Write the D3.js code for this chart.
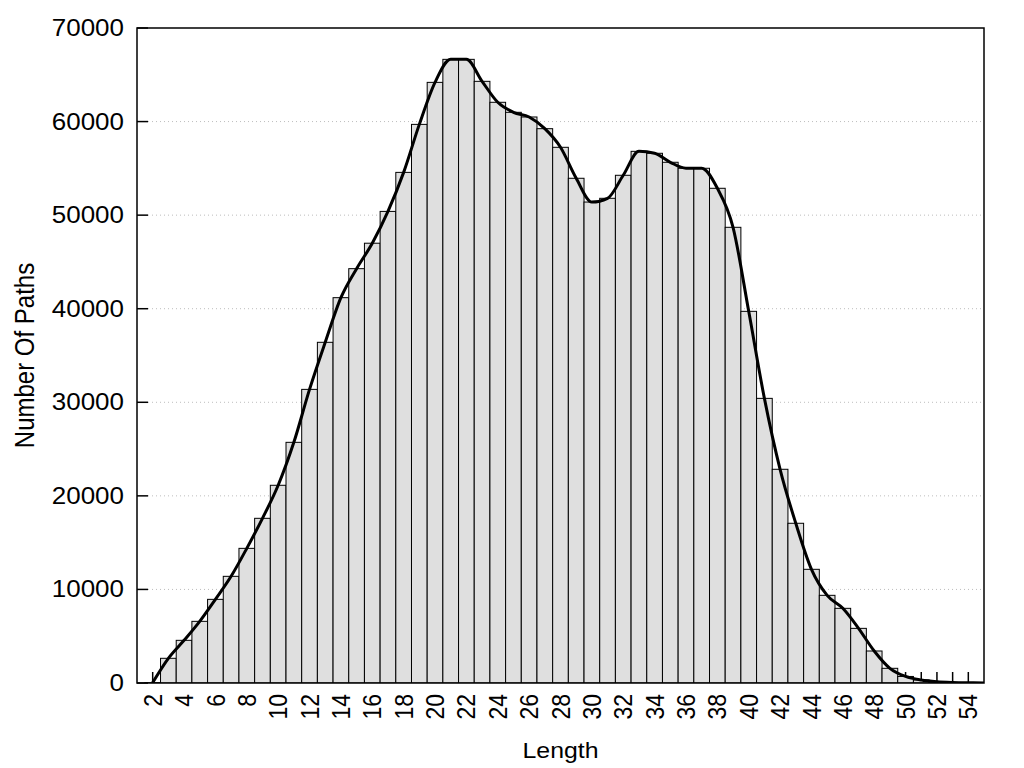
<!DOCTYPE html>
<html>
<head>
<meta charset="utf-8">
<script src="https://cdn.jsdelivr.net/npm/d3@7"></script>
<style>
    body { margin: 0; background: #fff; }
    text { font-family: "Liberation Sans", Arial, sans-serif; fill: #000; }
</style>
</head>
<body>
<div id="chart"></div>
<script>
// path length histogram
const LENGTHS = [2, 3, 4, 5, 6, 7, 8, 9, 10, 11, 12, 13, 14, 15, 16, 17, 18, 19, 20, 21, 22, 23, 24, 25, 26, 27, 28,
    29, 30, 31, 32, 33, 34, 35, 36, 37, 38, 39, 40, 41, 42, 43, 44, 45, 46, 47, 48, 49, 50, 51, 52, 53, 54, 55];
const COUNTS = [40, 2640, 4560, 6590, 8940, 11400, 14390, 17600, 21130, 25720, 31380, 36410, 41180, 44280, 47000,
    50400, 54570, 59700, 64190, 66650, 66650, 64300, 62060, 60990, 60490, 59240, 57250, 53940, 51400, 51800, 54260,
    56820, 56610, 55650, 55010, 55010, 52870, 48700, 39720, 30420, 22840, 17070, 12150, 9370, 7980, 5840, 3420, 1570,
    700, 320, 140, 60, 25, 10];
const Y_TICKS = [0, 10000, 20000, 30000, 40000, 50000, 60000, 70000];
const X_TICK_LABELS = [2, 4, 6, 8, 10, 12, 14, 16, 18, 20, 22, 24, 26, 28, 30, 32, 34, 36, 38, 40, 42, 44, 46, 48, 50, 52, 54];

(function () {
    const width = 1024, height = 768;
    const left = 137, right = 984, top = 28, bottom = 683;
    const stretch = 1.13; // the reference's glyphs are a bit wide

    const data = LENGTHS.map((len, i) => ({ len: len, count: COUNTS[i] }));

    const xScale = d3.scaleLinear().domain([1, 55]).range([left, right]);
    const yScale = d3.scaleLinear().domain([0, 70000]).range([bottom, top]);
    const barW = xScale(1) - xScale(0);

    const svg = d3.select("#chart").append("svg")
        .attr("width", width)
        .attr("height", height);

    svg.append("clipPath").attr("id", "plot")
        .append("rect")
        .attr("x", left).attr("y", top)
        .attr("width", right - left).attr("height", bottom - top);

    // dotted grid
    svg.append("g")
        .selectAll("line")
        .data(Y_TICKS.slice(1, -1))
        .enter()
        .append("line")
        .attr("x1", left + 11)
        .attr("x2", right)
        .attr("y1", d => yScale(d))
        .attr("y2", d => yScale(d))
        .attr("stroke", "#bdbdbd")
        .attr("stroke-width", 1)
        .attr("stroke-dasharray", "1,3");

    // x ticks sit behind the bars
    svg.append("g")
        .selectAll("line")
        .data(LENGTHS.slice(0, -1))
        .enter()
        .append("line")
        .attr("x1", d => xScale(d))
        .attr("x2", d => xScale(d))
        .attr("y1", bottom)
        .attr("y2", bottom - 11)
        .attr("stroke", "#000")
        .attr("stroke-width", 1.5);

    svg.append("g")
        .attr("clip-path", "url(#plot)")
        .selectAll("rect")
        .data(data)
        .enter()
        .append("rect")
        .attr("x", d => xScale(d.len) - barW / 2)
        .attr("width", barW)
        .attr("y", d => yScale(d.count))
        .attr("height", d => bottom - yScale(d.count))
        .attr("fill", "#dfdfdf")
        .attr("stroke", "#000")
        .attr("stroke-width", 1);

    const line = d3.line()
        .x(d => xScale(d.len))
        .y(d => yScale(d.count))
        .curve(d3.curveMonotoneX);

    svg.append("path")
        .datum(data)
        .attr("clip-path", "url(#plot)")
        .attr("d", line)
        .attr("fill", "none")
        .attr("stroke", "#000")
        .attr("stroke-width", 3)
        .attr("stroke-linejoin", "round");

    // y ticks
    svg.append("g")
        .selectAll("line")
        .data(Y_TICKS)
        .enter()
        .append("line")
        .attr("x1", left)
        .attr("x2", left + 11)
        .attr("y1", d => yScale(d))
        .attr("y2", d => yScale(d))
        .attr("stroke", "#000")
        .attr("stroke-width", 1.5);

    svg.append("rect")
        .attr("x", left).attr("y", top)
        .attr("width", right - left).attr("height", bottom - top)
        .attr("fill", "none")
        .attr("stroke", "#000")
        .attr("stroke-width", 1.5);

    svg.append("g")
        .selectAll("text")
        .data(Y_TICKS)
        .enter()
        .append("text")
        .attr("transform", d => `translate(${left - 13},${yScale(d)}) scale(${stretch},1)`)
        .attr("text-anchor", "end")
        .attr("dy", "0.35em")
        .attr("font-size", 23)
        .text(d => d);

    svg.append("g")
        .selectAll("text")
        .data(X_TICK_LABELS)
        .enter()
        .append("text")
        .attr("transform", d => `translate(${xScale(d)},${bottom + 11}) scale(${stretch},1) rotate(-90)`)
        .attr("text-anchor", "end")
        .attr("dy", "0.35em")
        .attr("font-size", 23)
        .text(d => d);

    svg.append("text")
        .attr("transform", `translate(${(left + right) / 2},${758}) scale(${stretch},1)`)
        .attr("text-anchor", "middle")
        .attr("font-size", 22)
        .text("Length");

    svg.append("text")
        .attr("transform", `translate(${34},${(top + bottom) / 2}) scale(${stretch},1) rotate(-90)`)
        .attr("text-anchor", "middle")
        .attr("font-size", 24)
        .text("Number Of Paths");

})()
</script>
</body>
</html>
